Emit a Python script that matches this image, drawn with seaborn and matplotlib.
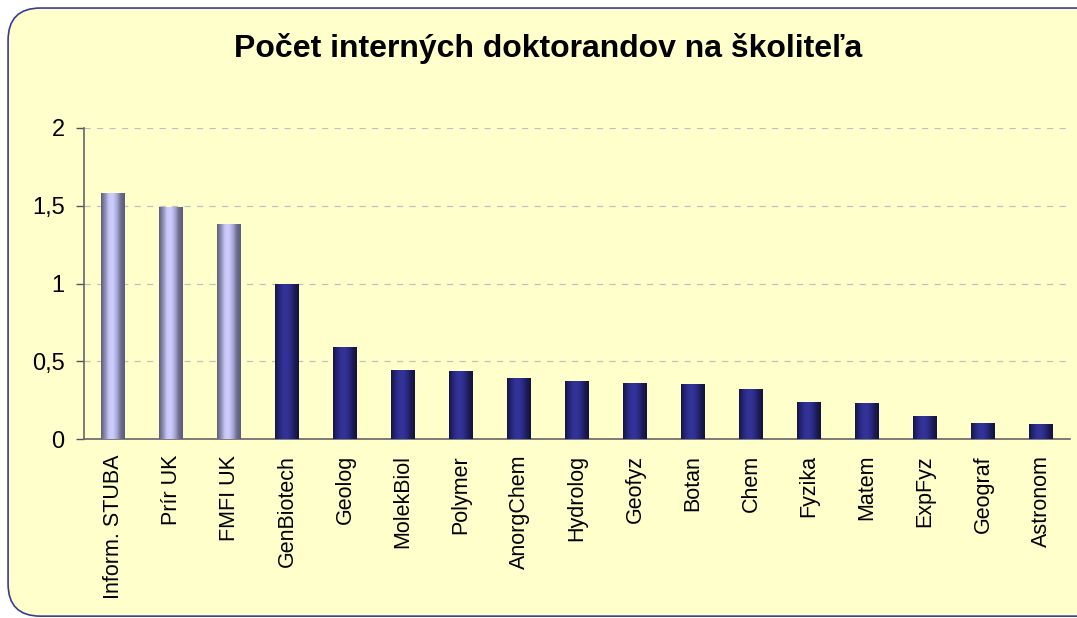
import matplotlib
matplotlib.use("Agg")
import matplotlib.pyplot as plt
from matplotlib.patches import FancyBboxPatch
from matplotlib.colors import LinearSegmentedColormap
from matplotlib.ticker import FixedLocator
import seaborn as sns
import numpy as np
import pandas as pd

# Data
categories = ["Inform. STUBA", "Prír UK", "FMFI UK", "GenBiotech", "Geolog", "MolekBiol",
              "Polymer", "AnorgChem", "Hydrolog", "Geofyz", "Botan", "Chem", "Fyzika",
              "Matem", "ExpFyz", "Geograf", "Astronom"]
values = [1.58, 1.49, 1.38, 1.0, 0.59, 0.445, 0.437, 0.39, 0.37, 0.36, 0.355, 0.32,
          0.24, 0.23, 0.15, 0.10, 0.095]
highlight = [True, True, True] + [False] * 14
title = "Počet interných doktorandov na školiteľa"
yticks = [0, 0.5, 1, 1.5, 2]
ytick_labels = ["0", "0,5", "1", "1,5", "2"]

df = pd.DataFrame({"cat": categories, "val": values, "hl": highlight})

sns.set_style("white")
plt.rcParams['font.family'] = ['Liberation Sans', 'DejaVu Sans']

bg = "#FFFFCC"
fig = plt.figure(figsize=(10.77, 6.18), dpi=100)
fig.patch.set_facecolor("white")

# rounded frame (runs off the right and bottom edge)
frame = FancyBboxPatch((0.0075, 0.003), 1.05, 0.984, boxstyle="round,pad=0,rounding_size=0.03",
                       transform=fig.transFigure, facecolor=bg, edgecolor="#3A3A9A",
                       linewidth=1.2, mutation_aspect=1077 / 618, zorder=-5)
fig.patches.append(frame)

ax = fig.add_axes([0.078, 0.2896, 0.9155, 0.5033])
ax.set_facecolor("none")

sns.barplot(data=df, x="cat", y="val", ax=ax, width=0.41, color="#333399",
            saturation=1, edgecolor="none")

# cylinder-like shading for bars
light_cmap = LinearSegmentedColormap.from_list(
    "light", ["#5E5E7A", "#8E8EB4", "#C8C8F8", "#CCCCFF", "#A8A8D8", "#6E6E90", "#5A5A78"])
dark_cmap = LinearSegmentedColormap.from_list(
    "dark", ["#15153F", "#25257A", "#313196", "#333399", "#2A2A85", "#1C1C55", "#13133A"])
grad = np.linspace(0, 1, 64).reshape(1, -1)
for patch, hl in zip(ax.patches, highlight):
    x0, y0 = patch.get_x(), patch.get_y()
    w, h = patch.get_width(), patch.get_height()
    im = ax.imshow(grad, cmap=light_cmap if hl else dark_cmap, aspect="auto",
                   extent=(x0, x0 + w, y0, y0 + h), zorder=3, interpolation="bilinear")
    im.set_clip_path(patch)
    patch.set_zorder(2)

ax.set_xlim(-0.5, len(categories) - 0.5)
ax.set_ylim(0, 2)
ax.set_yticks(yticks)
ax.set_yticklabels(ytick_labels, fontsize=17, color="black")
ax.yaxis.grid(True, linestyle=(0, (5, 5)), color="#C0C0C0", linewidth=0.9)
ax.set_axisbelow(True)

# x ticks between categories, labels at centers
ax.set_xticks(range(len(categories)))
ax.set_xticklabels(categories, rotation=90, fontsize=15.5, va="top", color="black")
ax.xaxis.set_minor_locator(FixedLocator(np.arange(-0.5, len(categories), 1)))
ax.tick_params(axis="x", which="major", length=0, pad=11.5)
ax.tick_params(axis="x", which="minor", length=6, width=1, color="#555555", direction="out")
ax.tick_params(axis="y", length=6, width=1, color="#555555", direction="out", pad=8, left=True)
ax.set_xlabel("")
ax.set_ylabel("")

for side in ["top", "right"]:
    ax.spines[side].set_visible(False)
for side in ["left", "bottom"]:
    ax.spines[side].set_color("#666666")
    ax.spines[side].set_linewidth(1.2)

fig.text(0.509, 0.922, title, ha="center", va="center", fontsize=23, fontweight="bold",
         color="black")

fig.savefig("out.png", dpi=100, facecolor=fig.get_facecolor())
